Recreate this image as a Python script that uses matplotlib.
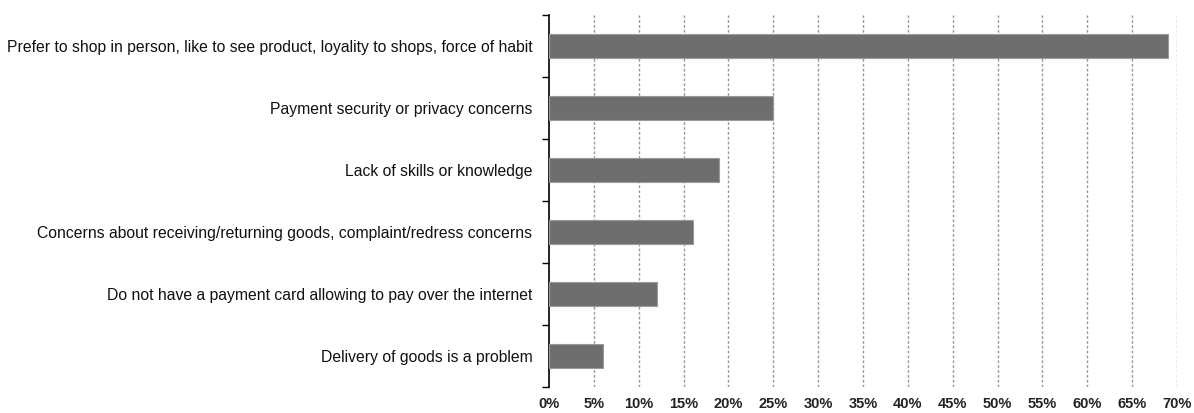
import matplotlib
matplotlib.use("Agg")
import matplotlib.pyplot as plt
from matplotlib.ticker import FixedLocator, PercentFormatter

categories = [
    "Prefer to shop in person, like to see product, loyality to shops, force of habit",
    "Payment security or privacy concerns",
    "Lack of skills or knowledge",
    "Concerns about receiving/returning goods, complaint/redress concerns",
    "Do not have a payment card allowing to pay over the internet",
    "Delivery of goods is a problem",
]
values = [69, 25, 19, 16, 12, 6]
xticks = list(range(0, 75, 5))

plt.rcParams['font.family'] = ['Liberation Sans', 'DejaVu Sans']

fig = plt.figure(figsize=(11.94, 4.13), dpi=100)
ax = fig.add_axes([549/1194, 1-387/413, (1177-549)/1194, (387-15)/413])

n = len(categories)
ypos = list(range(n))
ax.barh(ypos, values, height=0.4, color="#6e6e6e", edgecolor="#9a9a9a", linewidth=0.8, zorder=3)
ax.set_ylim(n - 0.5, -0.5)
ax.set_xlim(0, 70)

ax.set_yticks(ypos)
ax.set_yticklabels(categories, fontsize=11.3, color='#111111')
ax.tick_params(axis='y', which='major', length=0, pad=12)
ax.yaxis.set_minor_locator(FixedLocator([i - 0.5 for i in range(n + 1)]))
ax.tick_params(axis='y', which='minor', length=5, width=1, direction='out', color='black')

ax.set_xticks(xticks)
ax.xaxis.set_major_formatter(PercentFormatter(decimals=0))
ax.tick_params(axis='x', length=0, pad=7, labelsize=10.5)
for lbl in ax.get_xticklabels():
    lbl.set_fontweight('bold')
    lbl.set_color('#222222')

for x in xticks[1:]:
    ax.axvline(x, color="#999999", linestyle=(0, (2, 1.5)), linewidth=1, zorder=1)

for s in ['top', 'right', 'bottom']:
    ax.spines[s].set_visible(False)
ax.spines['left'].set_linewidth(1.2)

fig.savefig("out.png", dpi=100)
